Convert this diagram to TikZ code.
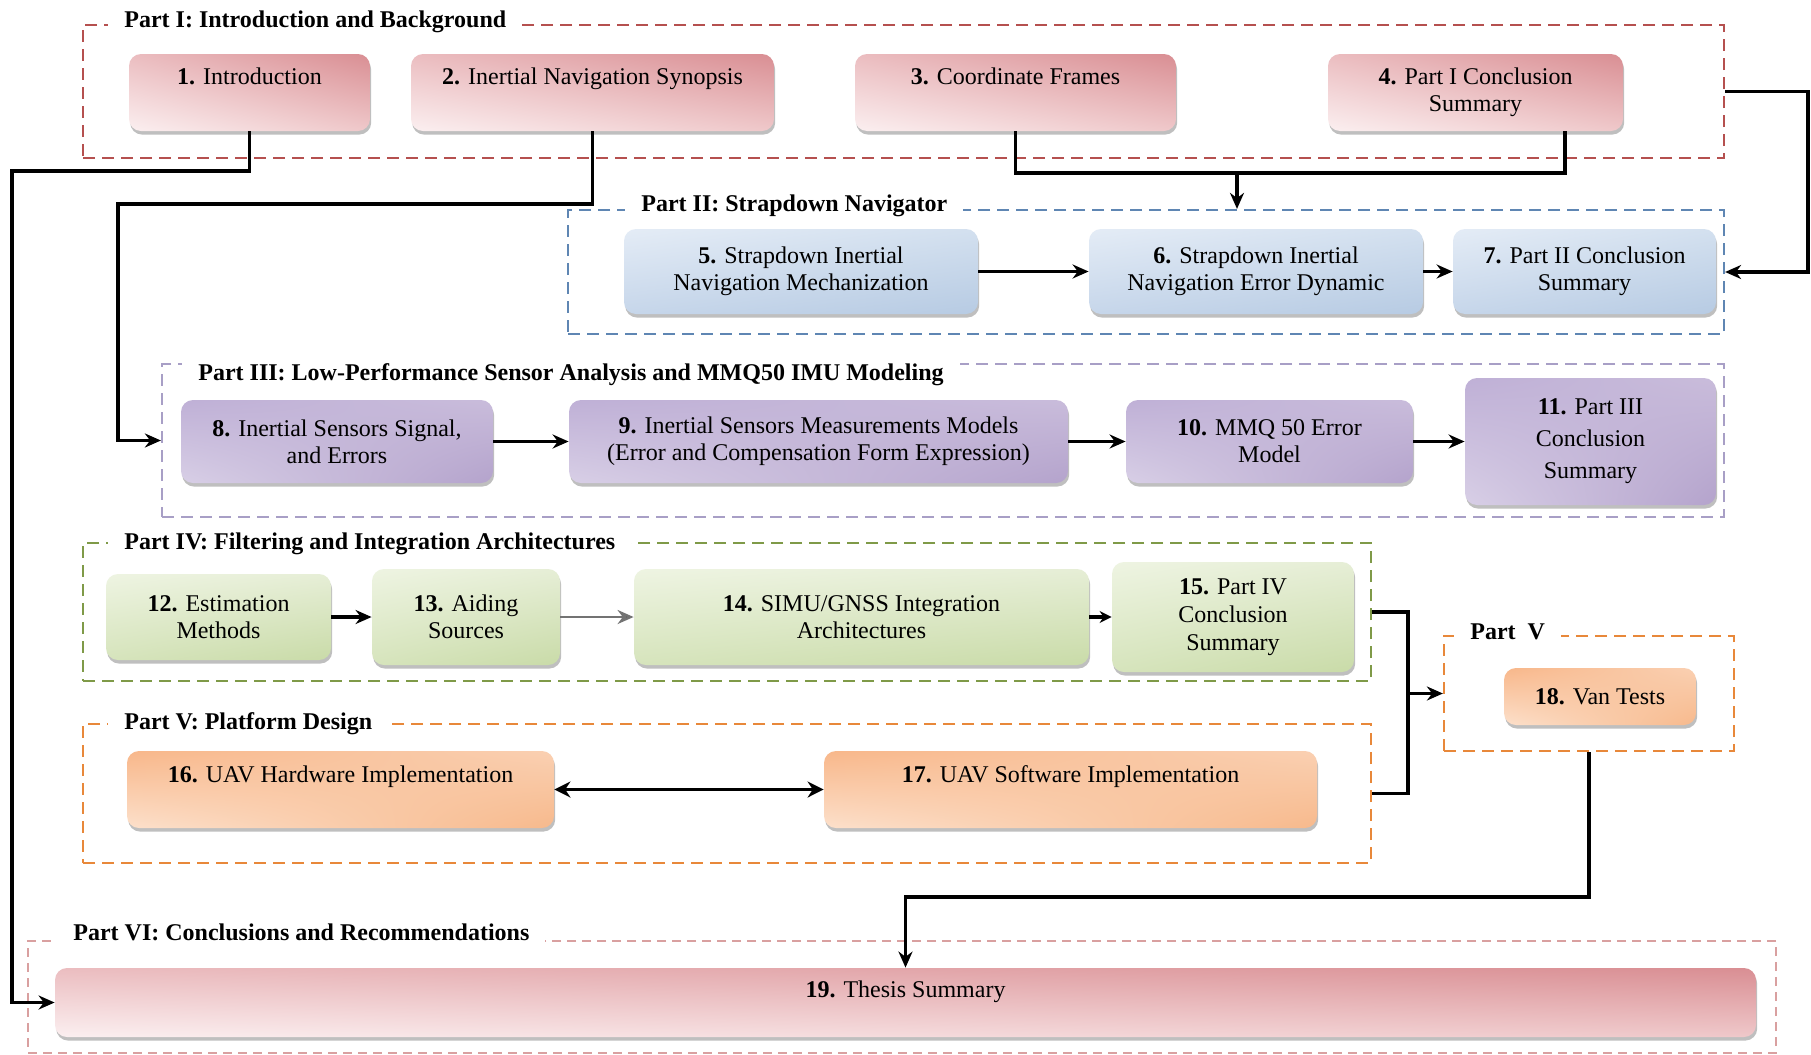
\documentclass[tikz,border=0pt]{standalone}
\usepackage{fontspec}
\setmainfont{Liberation Serif}
\usetikzlibrary{arrows.meta,shadows,shadings}

% group frame colours
\definecolor{rdline}{HTML}{B5504F}
\definecolor{blline}{HTML}{5F86B3}
\definecolor{puline}{HTML}{A89FC6}
\definecolor{grline}{HTML}{7F9A48}
\definecolor{orline}{HTML}{E8883A}
\definecolor{pkline}{HTML}{D9A0A0}
% box shading colours
\definecolor{rdUL}{HTML}{EBBDC0}\definecolor{rdUR}{HTML}{D98E93}
\definecolor{rdLL}{HTML}{FBEFF0}\definecolor{rdLR}{HTML}{EFC8CA}
\definecolor{blUL}{HTML}{E4ECF6}\definecolor{blUR}{HTML}{D3E0EF}
\definecolor{blLL}{HTML}{C6D6EA}\definecolor{blLR}{HTML}{B7CBE3}
\definecolor{puUL}{HTML}{BFB0D6}\definecolor{puUR}{HTML}{C9BCDB}
\definecolor{puLL}{HTML}{D8CFE6}\definecolor{puLR}{HTML}{B4A3CC}
\definecolor{grUL}{HTML}{EEF4E2}\definecolor{grUR}{HTML}{E6EED6}
\definecolor{grLL}{HTML}{D6E4BC}\definecolor{grLR}{HTML}{C9DBA8}
\definecolor{orUL}{HTML}{F8B78A}\definecolor{orUR}{HTML}{FAD0B2}
\definecolor{orLL}{HTML}{FCE0CB}\definecolor{orLR}{HTML}{F7B98C}

\begin{document}
\begin{tikzpicture}[x=0.5pt,y=-0.5pt,
  box/.style={rounded corners=6pt, align=center, inner sep=2pt,
    font=\fontsize{12}{13.5}\selectfont,
    drop shadow={shadow xshift=0.6pt, shadow yshift=-1.8pt, fill=black!50, opacity=0.5}},
  redbox/.style={box, upper left=rdUL, upper right=rdUR, lower left=rdLL, lower right=rdLR},
  bluebox/.style={box, upper left=blUL, upper right=blUR, lower left=blLL, lower right=blLR},
  purbox/.style={box, upper left=puUL, upper right=puUR, lower left=puLL, lower right=puLR},
  grnbox/.style={box, upper left=grUL, upper right=grUR, lower left=grLL, lower right=grLR},
  orbox/.style={box, upper left=orUL, upper right=orUR, lower left=orLL, lower right=orLR},
  lift/.style={text height=9pt, text depth=#1},
  grp/.style={draw, dash pattern=on 6pt off 3.5pt, line width=1.1pt, inner sep=0pt},
  gtitle/.style={fill=white, anchor=west, inner xsep=8pt, inner ysep=1pt,
    font=\bfseries\fontsize{12}{14}\selectfont},
  line/.style={line width=1.6pt},
  conn/.style={line width=1.6pt, -{Stealth[length=8pt,width=7pt]}}
]
\fill[white] (0,0) rectangle (1811,1055);
\useasboundingbox (0,0) rectangle (1811,1055);

% ---------- group frames ----------
\node[grp, draw=rdline, minimum width=820.5pt, minimum height=66.5pt] (g1) at (903.5,91.5) {};
\node[grp, draw=blline, minimum width=578pt,   minimum height=62pt]   (g2) at (1146,272) {};
\node[grp, draw=puline, minimum width=781pt,   minimum height=76.5pt] (g3) at (943,440.5) {};
\node[grp, draw=grline, minimum width=644pt,   minimum height=69pt]   (g4) at (727,612) {};
\node[grp, draw=orline, minimum width=644pt,   minimum height=69.5pt] (g5) at (727,793.5) {};
\node[grp, draw=orline, minimum width=145pt,   minimum height=57.5pt] (g5b) at (1589,693.5) {};
\node[grp, draw=pkline, line width=0.9pt, dash pattern=on 4.5pt off 3pt,
      minimum width=874pt, minimum height=56pt] (g6) at (902,997) {};

% ---------- group titles ----------
\node[gtitle] (t1)  at (108,22)  {Part I: Introduction and Background};
\node[gtitle] (t2)  at (625,206) {Part II: Strapdown Navigator};
\node[gtitle] (t3)  at (182,375) {Part III: Low-Performance Sensor Analysis and MMQ50 IMU Modeling};
\node[gtitle] (t4)  at (108,544) {Part IV: Filtering and Integration Architectures};
\node[gtitle] (t5)  at (108,724) {Part V: Platform Design};
\node[gtitle] (t5b) at (1454,632) {Part\ \ V};
\node[gtitle] (t6)  at (57,932)  {Part VI: Conclusions and Recommendations};

% ---------- Part I ----------
\node[redbox, lift=17pt, minimum width=120.5pt, minimum height=38.5pt] (n1) at (249.5,92.5) {\textbf{1.} Introduction};
\node[redbox, lift=17pt, minimum width=181.5pt, minimum height=38.5pt] (n2) at (592.5,92.5) {\textbf{2.} Inertial Navigation Synopsis};
\node[redbox, lift=17pt, minimum width=160.5pt, minimum height=38.5pt] (n3) at (1015.5,92.5) {\textbf{3.} Coordinate Frames};
\node[redbox, minimum width=147.5pt, minimum height=38.5pt] (n4) at (1475.5,92.5) {\textbf{4.} Part I Conclusion\\Summary};

% ---------- Part II ----------
\node[bluebox, minimum width=177pt, minimum height=42.5pt] (n5) at (801,271.5) {\textbf{5.} Strapdown Inertial\\Navigation Mechanization};
\node[bluebox, minimum width=167pt, minimum height=42.5pt] (n6) at (1256,271.5) {\textbf{6.} Strapdown Inertial\\Navigation Error Dynamic};
\node[bluebox, minimum width=131.5pt, minimum height=42.5pt] (n7) at (1584.5,271.5) {\textbf{7.} Part II Conclusion\\Summary};

% ---------- Part III ----------
\node[purbox, minimum width=156pt, minimum height=41.5pt] (n8) at (337,441.5) {\textbf{8.} Inertial Sensors Signal,\\and Errors};
\node[purbox, minimum width=249.5pt, minimum height=41.5pt] (n9) at (818.5,441.5) {\textbf{9.} Inertial Sensors Measurements Models\\(Error and Compensation Form Expression)};
\node[purbox, minimum width=143.5pt, minimum height=41.5pt] (n10) at (1269.5,441.5) {\textbf{10.} MMQ 50 Error\\Model};
\node[purbox, minimum width=125.5pt, minimum height=63.5pt, font=\fontsize{12}{16}\selectfont] (n11) at (1590.5,441.5) {\textbf{11.} Part III\\Conclusion\\Summary};

% ---------- Part IV ----------
\node[grnbox, minimum width=112.5pt, minimum height=43pt] (n12) at (218.5,617) {\textbf{12.} Estimation\\Methods};
\node[grnbox, minimum width=94pt, minimum height=48pt] (n13) at (466,617) {\textbf{13.} Aiding\\Sources};
\node[grnbox, minimum width=227.5pt, minimum height=48pt] (n14) at (861.5,617) {\textbf{14.} SIMU/GNSS Integration\\Architectures};
\node[grnbox, minimum width=121pt, minimum height=55pt, font=\fontsize{12}{14}\selectfont] (n15) at (1233,617) {\textbf{15.} Part IV\\Conclusion\\Summary};

% ---------- Part V ----------
\node[orbox, lift=16pt, minimum width=213.5pt, minimum height=38.5pt] (n16) at (340.5,789.5) {\textbf{16.} UAV Hardware Implementation};
\node[orbox, lift=16pt, minimum width=246.5pt, minimum height=38.5pt] (n17) at (1070.5,789.5) {\textbf{17.} UAV Software Implementation};
\node[orbox, minimum width=96pt, minimum height=28.5pt] (n18) at (1600,696.5) {\textbf{18.} Van Tests};

% ---------- Part VI ----------
\node[redbox, lift=14pt, minimum width=850.5pt, minimum height=34.5pt] (n19) at (905.5,1002.5) {\textbf{19.} Thesis Summary};

% ---------- connectors ----------
\coordinate (k1) at (12,171);
\draw[conn] (n1.south) |- (k1) |- (n19.west);

\coordinate (k2) at (118,204);
\draw[conn] (n2.south) |- (k2) |- (g3.west);

\coordinate (k3) at (1237,173);
\coordinate (k4) at (1565,173);
\draw[line] (n3.south) |- (k4) -- (k4 |- n4.south);
\draw[conn] (k3) -- (k3 |- g2.north);

\coordinate (k5) at (1808,91.5);
\draw[conn] (g1.east) -- (k5) |- (g2.east);

\draw[conn] (n5) -- (n6);
\draw[conn] (n6) -- (n7);
\draw[conn] (n8) -- (n9);
\draw[conn] (n9) -- (n10);
\draw[conn] (n10) -- (n11);
\draw[conn] (n12) -- (n13);
\draw[conn, draw=black!55, line width=1.3pt, -{Stealth[length=8pt,width=7pt,fill=black]}] (n13) -- (n14);
\draw[conn, -{Stealth[length=6pt,width=6pt]}] (n14) -- (n15);
\draw[line, {Stealth[length=8pt,width=8pt]}-{Stealth[length=8pt,width=8pt]}] (n16) -- (n17);

\coordinate (k6) at (1408,612);
\coordinate (k7) at (1408,793.5);
\draw[line] (g4.east) -- (k6) -- (k7) -- (g5.east);
\draw[conn] (k6 |- g5b.west) -- (g5b.west);

\coordinate (k8) at (1589,897);
\draw[conn] (g5b.south) -- (k8) -| (n19.north);
\end{tikzpicture}
\end{document}
